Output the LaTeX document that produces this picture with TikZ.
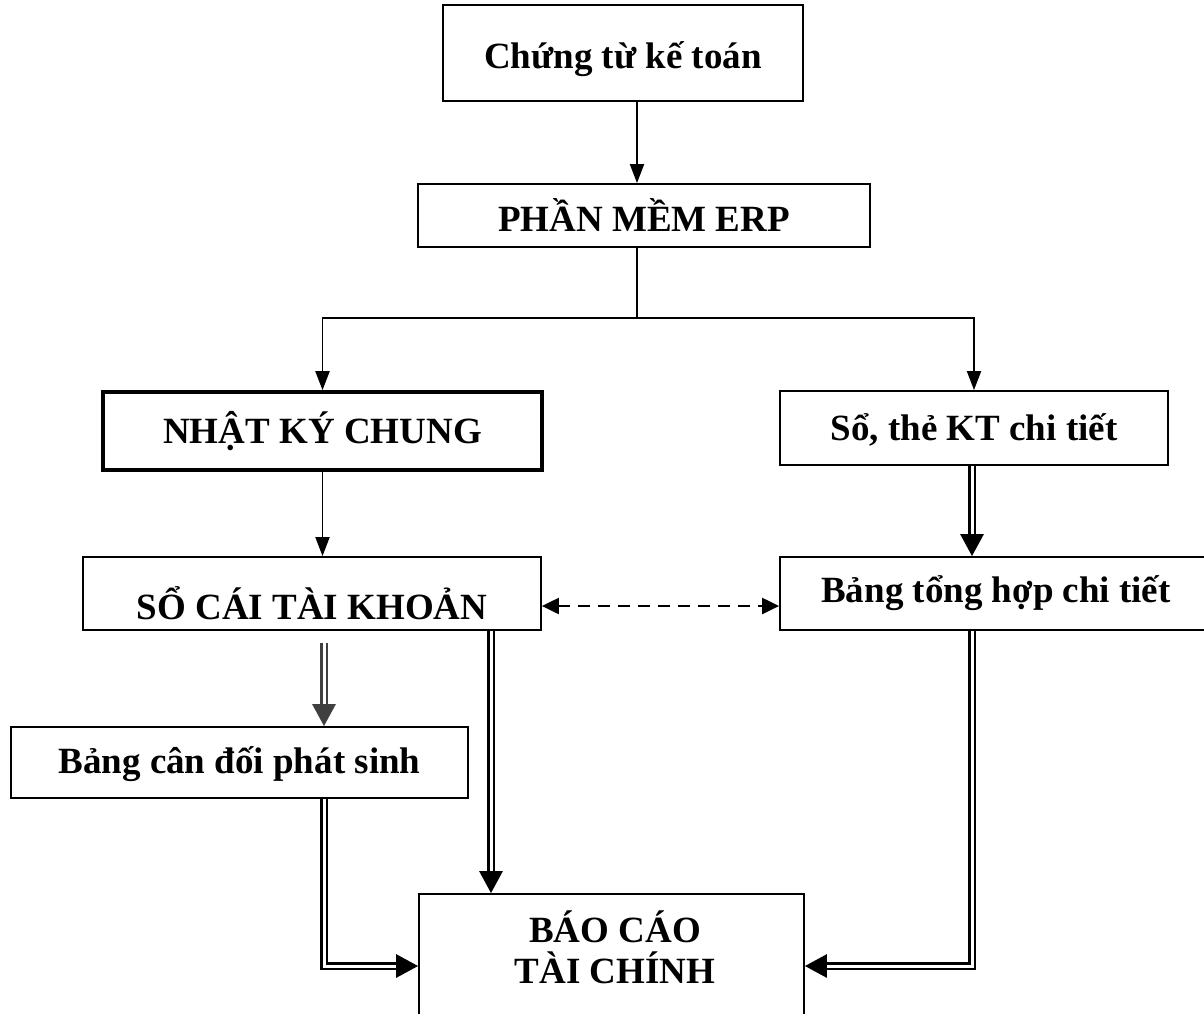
\documentclass[tikz,border=0pt]{standalone}
\usepackage{fontspec}
\setmainfont{Liberation Serif}
\usetikzlibrary{arrows.meta}
% lower a line of text without changing the box it occupies
\newcommand\dropby[2]{\raisebox{-#1}[\height][\depth]{#2}}
\begin{document}
\begin{tikzpicture}[x=1pt,y=-1pt,
  box/.style={draw, line width=1.8pt, inner sep=0pt, align=center,
    font=\bfseries\fontsize{37}{41}\selectfont},
  boldbox/.style={box, line width=3.6pt},
  label/.style={inner sep=0pt, align=center, font=\bfseries\fontsize{37}{41}\selectfont},
  single/.style={line width=1.9pt, -{Triangle[length=19pt,width=14pt]}},
  plain/.style={line width=1.9pt},
  twin/.style={double, line width=2.9pt, double distance=3pt, line join=miter,
    -{Triangle[length=22pt,width=23pt]}},
  dashlink/.style={line width=2.2pt, dash pattern=on 12pt off 8pt,
    {Triangle[length=17pt,width=16pt]}-{Triangle[length=17pt,width=16pt]}}]

\clip (0,0) rectangle (1204,1013);

% boxes
\node[box, minimum width=360pt, minimum height=96pt] (ct) at (623,53) {\dropby{6pt}{Chứng từ kế toán}};
\node[box, minimum width=452pt, minimum height=63pt] (erp) at (644,215.5) {PHẦN MỀM ERP};
\node[boldbox, minimum width=439pt, minimum height=78pt] (nkc) at (322.5,431) {NHẬT KÝ CHUNG};
\node[box, minimum width=388pt, minimum height=74pt] (sct) at (974,428) {\dropby{2pt}{Sổ, thẻ KT chi tiết}};
\node[box, minimum width=458pt, minimum height=73pt] (sc) at (312,593.5) {\dropby{10pt}{SỔ CÁI TÀI KHOẢN}};
\node[box, minimum width=432pt, minimum height=73pt] (bth) at (996,593.5) {Bảng tổng hợp chi tiết};
\node[box, minimum width=457pt, minimum height=71pt] (bcd) at (239.5,762.5) {\dropby{2pt}{Bảng cân đối phát sinh}};
\node[box, minimum width=385pt, minimum height=136pt] (bctc) at (611.5,962) {};
\node[label] (bctctext) at (615,947) {BÁO CÁO\\TÀI CHÍNH};

% guide coordinates for the connector routes
\coordinate (spine) at (637,0);
\coordinate (fork) at (637,318);
\coordinate (dashy) at (0,606);
\coordinate (gstart) at (324,643);
\coordinate (midx) at (491,0);
\coordinate (rightx) at (972,0);
\coordinate (lowy) at (0,966);

% connectors
\draw[single] (ct.south -| spine) -- (erp.north -| spine);
\draw[plain] (erp.south -| spine) -- (fork);
\draw[single] (fork) -| (nkc.north);
\draw[single] (fork) -| (sct.north);
\draw[single] (nkc.south) -- (nkc.south |- sc.north);
\draw[twin] (sct.south -| rightx) -- (bth.north -| rightx);
\draw[dashlink] (sc.east |- dashy) -- (bth.west |- dashy);
\draw[twin, color=black!75] (gstart) -- (gstart |- bcd.north);
\draw[twin] (sc.south -| midx) -- (bctc.north -| midx);
\draw[twin] (bcd.south -| gstart) |- (bctc.west |- lowy);
\draw[twin] (bth.south -| rightx) |- (bctc.east |- lowy);
\end{tikzpicture}
\end{document}
